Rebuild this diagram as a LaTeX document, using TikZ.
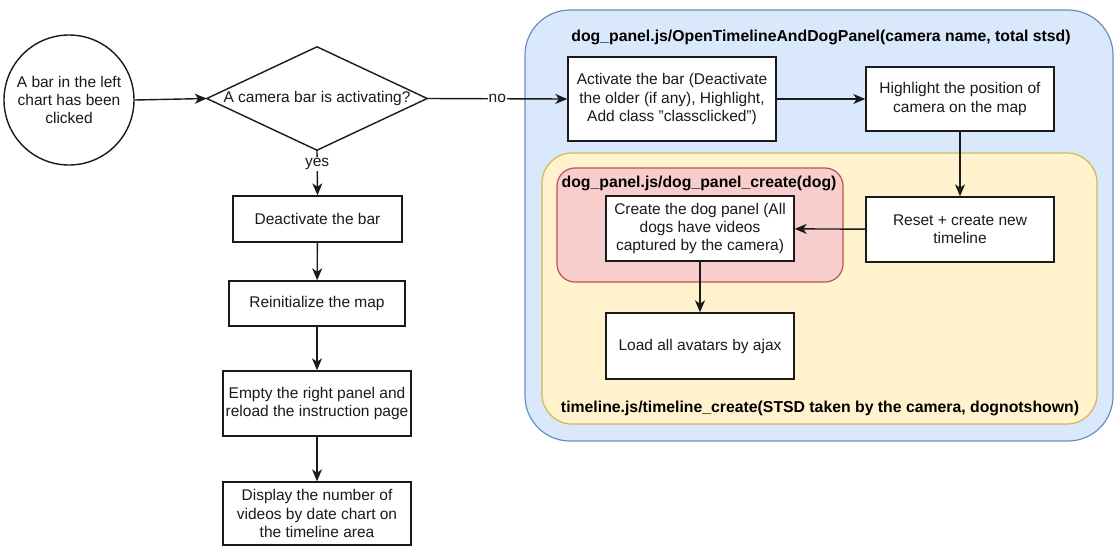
\documentclass[tikz,border=0pt]{standalone}
\usepackage{fontspec}
\setmainfont{Liberation Sans}
\usetikzlibrary{arrows.meta}
\definecolor{bluefill}{HTML}{DAE8FC}
\definecolor{bluedraw}{HTML}{6C8EBF}
\definecolor{yelfill}{HTML}{FFF2CC}
\definecolor{yeldraw}{HTML}{D6B656}
\definecolor{redfill}{HTML}{F8CECC}
\definecolor{reddraw}{HTML}{B85450}
\definecolor{ink}{HTML}{1A1A1A}
\tikzset{
  every node/.style={font=\fontsize{15.5}{18.3}\selectfont, text=ink},
  box/.style={draw=ink, fill=white, line width=1.4pt, align=center, inner sep=0pt},
  grp/.style={rounded corners=#1, line width=1.2pt},
  title/.style={font=\fontsize{15.8}{18.3}\selectfont\bfseries, text=black},
  arr/.style={draw=ink, line width=1.4pt, -{Stealth[length=12pt,width=10pt,inset=3.5pt]}},
  lbl/.style={fill=white, inner sep=1pt}
}
\begin{document}
\begin{tikzpicture}[x=1pt,y=-1pt]
\useasboundingbox (0,0) rectangle (1115,547);
% containers
\node[grp=45pt, draw=bluedraw, fill=bluefill, minimum width=588pt, minimum height=431pt] (blue) at (819,225.5) {};
\node[grp=30pt, draw=yeldraw, fill=yelfill, minimum width=555pt, minimum height=271pt] (yellow) at (819.5,288.5) {};
\node[grp=18pt, draw=reddraw, fill=redfill, minimum width=286pt, minimum height=114pt] (red) at (700,225) {};
\node[title] (bluetitle) at (821,37) {dog\_panel.js/OpenTimelineAndDogPanel(camera name, total stsd)};
\node[title] (yeltitle) at (820,408) {timeline.js/timeline\_create(STSD taken by the camera, dognotshown)};
\node[title] (redtitle) at (699,183) {dog\_panel.js/dog\_panel\_create(dog)};
% left flow
\node[box, circle, minimum size=130pt] (circ) at (69,100) {A bar in the left\\chart has been\\clicked};
\node[minimum width=220pt, minimum height=103pt, inner sep=0pt] (dia) at (317,98.5) {};
\draw[draw=ink, fill=white, line width=1.4pt] (dia.west) -- (dia.north) -- (dia.east) -- (dia.south) -- cycle;
\node (diatext) at (dia) {A camera bar is activating?};
\node[box, minimum width=169pt, minimum height=46pt] (deact) at (317.5,219) {Deactivate the bar};
\node[box, minimum width=176pt, minimum height=45pt] (reinit) at (317,303.5) {Reinitialize the map};
\node[box, minimum width=188pt, minimum height=65pt] (empty) at (317,403.5) {Empty the right panel and\\reload the instruction page};
\node[box, minimum width=188pt, minimum height=63pt] (display) at (317,513.5) {Display the number of\\videos by date chart on\\the timeline area};
% right flow
\node[box, minimum width=208pt, minimum height=84pt] (activate) at (672,99) {Activate the bar (Deactivate\\the older (if any), Highlight,\\Add class "classclicked")};
\node[box, minimum width=188pt, minimum height=64pt] (highlight) at (960,99) {Highlight the position of\\camera on the map};
\node[box, minimum width=188pt, minimum height=65pt] (reset) at (960,229.5) {Reset + create new\\timeline};
\node[box, minimum width=188pt, minimum height=65pt] (create) at (700,228.5) {Create the dog panel (All\\dogs have videos\\captured by the camera)};
\node[box, minimum width=188pt, minimum height=66pt] (load) at (700,346) {Load all avatars by ajax};
% connectors
\draw[arr] (circ.east) -- (dia.west);
\draw[arr] (dia.east) -- node[lbl, pos=0.5] (no) {no} (activate.west);
\draw[arr] (dia.south) -- node[lbl, pos=0.3] (yes) {yes} (deact.north);
\draw[arr] (deact) -- (reinit);
\draw[arr] (reinit) -- (empty);
\draw[arr] (empty) -- (display);
\draw[arr] (activate.east) -- (highlight.west);
\draw[arr] (highlight) -- (reset);
\draw[arr] (reset) -- (create);
\draw[arr] (create) -- (load);
\end{tikzpicture}
\end{document}
